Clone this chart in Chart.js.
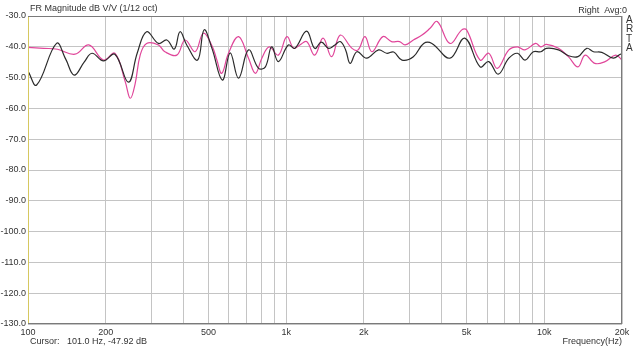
<!DOCTYPE html>
<html>
<head>
<meta charset="utf-8">
<script src="https://cdn.jsdelivr.net/npm/chart.js@4.4.1/dist/chart.umd.min.js"></script>
<style>
html, body { margin: 0; padding: 0; background: #fff; }
</style>
</head>
<body>
<canvas id="fr-chart" width="640" height="349"></canvas>
<script>
// Frequency response data (Hz / dB)

var blackFreq = [100, 108, 129, 140, 151, 165, 177, 196, 217, 245, 265, 288, 320, 345, 369, 388, 412, 454, 481, 516, 566, 607, 654, 715, 782, 831, 879, 933, 1020, 1080, 1200, 1290, 1370, 1460, 1540, 1620, 1700, 1770, 1880, 2050, 2280, 2450, 2610, 2810, 3110, 3410, 3670, 4310, 4920, 5640, 6090, 6630, 7290, 7870, 8420, 9070, 9700, 10190, 11350, 12400, 13500, 14600, 15500, 16700, 18500, 19700, 20000];
var blackDb = [-47.9, -52.4, -38.9, -44, -49.2, -45, -42.1, -44.6, -42.4, -51.5, -42, -35.1, -38.9, -37.8, -40.7, -35.1, -39.4, -44.3, -34.5, -40.5, -50.8, -42, -50.2, -41, -47, -46.5, -40, -44.8, -39.4, -40.5, -34.9, -40.5, -38.5, -40.5, -39.5, -38.3, -41, -45.4, -41.6, -43.7, -41, -42.1, -41.7, -44.3, -43.2, -38.9, -38.9, -43.7, -37.2, -46.5, -44.8, -48.9, -43.7, -42.1, -44.3, -41.6, -41.6, -40.5, -41, -42.9, -43.2, -40.5, -41.6, -41.8, -43.7, -42.4, -42.4];

var pinkFreq = [100, 115, 130, 152, 172, 196, 217, 238, 249, 260, 272, 288, 320, 339, 377, 406, 444, 478, 518, 539, 563, 598, 654, 715, 760, 805, 860, 933, 1006, 1070, 1130, 1200, 1290, 1390, 1500, 1620, 1800, 1900, 2020, 2150, 2370, 2560, 2750, 2890, 3110, 3360, 3610, 3850, 4310, 4790, 5000, 5640, 6090, 6570, 7290, 7870, 8420, 9250, 9700, 10190, 11350, 12400, 13500, 14400, 15700, 17200, 18900, 20000];
var pinkDb = [-40.2, -40.5, -40.8, -42.4, -39.4, -44.3, -42.1, -51.3, -56.7, -52, -42.7, -38.9, -39.4, -41.6, -42.7, -37.8, -41.6, -35.6, -40, -44.3, -48.6, -42.1, -36.7, -43.7, -48.6, -43.7, -40, -42.7, -36.7, -40.5, -39.4, -38.3, -42.7, -37.2, -43.2, -36.2, -40.5, -41, -36.7, -41.6, -36.7, -38.3, -38.3, -39.4, -37.8, -36.2, -34, -31.8, -38.9, -34.5, -34.5, -44.3, -42.1, -47, -41, -40, -41, -38.9, -40, -39.2, -40.5, -43.2, -46.5, -42.7, -45.4, -44.8, -42.7, -44.3];

// axis ticks
var gridFreqs = [100, 200, 300, 400, 500, 600, 700, 800, 900, 1000, 2000, 3000, 4000, 5000, 6000, 7000, 8000, 9000, 10000, 20000];
var freqLabels = {100: '100', 200: '200', 500: '500', 1000: '1k', 2000: '2k', 5000: '5k', 10000: '10k', 20000: '20k'};
var dbTicks = [-30, -40, -50, -60, -70, -80, -90, -100, -110, -120, -130];

function toPoints(xs, ys) {
    return xs.map(function (f, i) { return { x: f, y: ys[i] }; });
}

var FONT = '"Liberation Sans", Arial, sans-serif';

var artaText = {
    id: 'artaText',
    afterDraw: function (chart) {
        var ctx = chart.ctx;
        var a = chart.chartArea;
        ctx.save();
        // plot frame
        ctx.lineWidth = 1;
        ctx.strokeStyle = '#7a7a7a';
        ctx.strokeRect(a.left + 0.5, a.top + 0.5, a.right - a.left - 1, a.bottom - a.top - 1);
        ctx.strokeStyle = '#d6c860';
        ctx.beginPath();
        ctx.moveTo(a.left + 0.5, a.top + 1);
        ctx.lineTo(a.left + 0.5, a.bottom - 1);
        ctx.stroke();

        ctx.fillStyle = '#333';
        ctx.font = '9px ' + FONT;
        ctx.textBaseline = 'middle';
        ctx.textAlign = 'left';
        ctx.fillText('FR Magnitude dB V/V (1/12 oct)', 30, 9);
        ctx.fillText('Cursor:   101.0 Hz, -47.92 dB', 30, 342);
        ctx.textAlign = 'right';
        ctx.fillText('Right  Avg:0', 627, 11);
        ctx.fillText('Frequency(Hz)', 622, 342);

        ctx.font = '10px ' + FONT;
        ctx.textAlign = 'left';
        var letters = ['A', 'R', 'T', 'A'];
        letters.forEach(function (ch, i) {
            ctx.fillText(ch, 626, 20 + i * 9.5);
        });
        ctx.restore();
    }
};

var fr = document.getElementById('fr-chart').getContext('2d');
var frChart = new Chart(fr, {
    type: 'line',
    data: {
        datasets: [{
            label: 'Right',
            data: toPoints(blackFreq, blackDb),
            borderColor: '#2b2b2b',
            borderWidth: 1.2,
            pointRadius: 0,
            tension: 0.4,
            fill: false
        }, {
            label: 'Left',
            data: toPoints(pinkFreq, pinkDb),
            borderColor: '#e0469a',
            borderWidth: 1.2,
            pointRadius: 0,
            tension: 0.4,
            fill: false
        }]
    },
    options: {
        responsive: false,
        animation: false,
        layout: {
            padding: { top: 16, right: 18, bottom: 0, left: 0 }
        },
        scales: {
            x: {
                type: 'logarithmic',
                min: 100,
                max: 20000,
                afterBuildTicks: function (scale) {
                    scale.ticks = gridFreqs.map(function (v) { return { value: v }; });
                },
                afterFit: function (scale) { scale.height = 25; },
                grid: { color: '#c4c4c4', drawTicks: false },
                border: { display: false },
                ticks: {
                    autoSkip: false,
                    maxRotation: 0,
                    padding: 3,
                    color: '#333',
                    font: { family: FONT, size: 9 },
                    callback: function (value) { return freqLabels[value] || ''; }
                }
            },
            y: {
                min: -130,
                max: -30,
                afterBuildTicks: function (scale) {
                    scale.ticks = dbTicks.map(function (v) { return { value: v }; });
                },
                afterFit: function (scale) { scale.width = 28; },
                grid: { color: '#c4c4c4', drawTicks: false },
                border: { display: false },
                ticks: {
                    padding: 2,
                    color: '#333',
                    font: { family: FONT, size: 9 },
                    callback: function (value) { return value.toFixed(1); }
                }
            }
        },
        plugins: {
            legend: false,
            tooltip: { enabled: false }
        }
    },
    plugins: [artaText]
});
</script>
</body>
</html>
